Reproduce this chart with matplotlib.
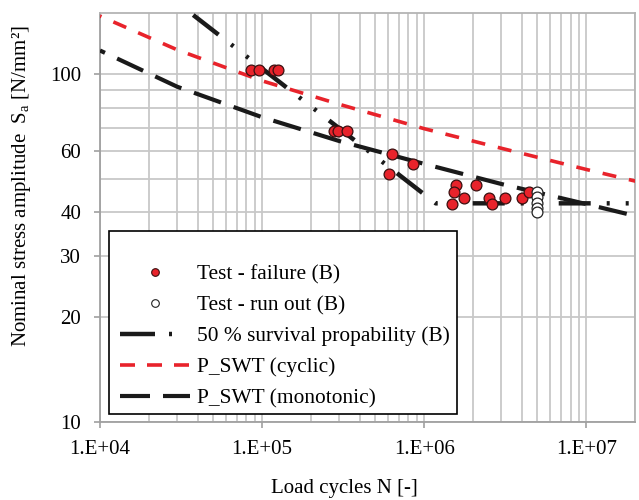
import matplotlib
matplotlib.use('Agg')
import matplotlib.pyplot as plt
from matplotlib.lines import Line2D
from matplotlib.patches import Rectangle
from matplotlib.ticker import FixedLocator, FixedFormatter, NullFormatter

plt.rcParams['font.family'] = ['Liberation Serif', 'DejaVu Serif']
plt.rcParams['lines.scale_dashes'] = False

# ---------------- data ----------------
fail_N = [8.6e4, 9.6e4, 1.19e5, 1.26e5,
          2.76e5, 2.96e5, 3.32e5,
          6.3e5, 8.5e5, 6.07e5,
          1.57e6, 1.52e6, 1.77e6, 1.48e6, 2.08e6, 2.52e6, 2.61e6, 3.15e6, 4.0e6, 4.45e6]
fail_S = [103, 103, 103, 103,
          68.5, 68.5, 68.5,
          58.8, 55.0, 51.5,
          47.9, 45.9, 44.1, 42.4, 47.9, 44.1, 42.4, 44.1, 44.1, 45.9]

runout_N = [5.0e6, 5.0e6, 5.0e6, 5.0e6, 5.0e6]
runout_S = [45.9, 44.2, 42.6, 41.1, 40.0]

surv_N = [3.76e4, 1.18e6, 2.0e7]
surv_S = [148, 42.5, 42.5]

cyc_N = [1e4, 3e4, 1e5, 3e5, 1e6, 3e6, 1e7, 2.1e7]
cyc_S = [147, 117.5, 95.7, 81.9, 69.7, 61.2, 53.2, 49.0]

mono_N = [1e4, 3e4, 1e5, 3e5, 1e6, 3e6, 1e7, 2.1e7]
mono_S = [117, 92.0, 75.2, 64.2, 55.2, 48.3, 42.3, 38.9]

xticks = [1e4, 1e5, 1e6, 1e7]
xticklabels = ['1.E+04', '1.E+05', '1.E+06', '1.E+07']
yticks = [10, 20, 30, 40, 60, 100]
yticklabels = ['10', '20', '30', '40', '60', '100']
yminor = [50, 70, 80, 90]

legend_labels = ['Test - failure (B)', 'Test - run out (B)',
                 '50 % survival propability (B)', 'P_SWT (cyclic)', 'P_SWT (monotonic)']

# ---------------- styles ----------------
RED = '#E8232B'
px = 0.72  # points per pixel at 100 dpi
surv_dash = (0, (32*px, 16*px, 3*px, 16*px, 3*px, 16*px))
cyc_dash = (12.4*px, (14*px, 13*px))
mono_dash = (23.2*px, (28.7*px, 13.4*px))
FS = 15

fig = plt.figure(figsize=(6.39, 5.0), dpi=100)
ax = fig.add_axes([100/639, 1-421.7/500, 535/639, 408.7/500])
ax.set_xscale('log')
ax.set_yscale('log')
ax.set_xlim(1e4, 2e7)
ax.set_ylim(10, 150)

grid_c = '#c8c8c8'
ax.xaxis.set_major_locator(FixedLocator(xticks))
ax.xaxis.set_major_formatter(FixedFormatter(xticklabels))
ax.xaxis.set_minor_formatter(NullFormatter())
ax.yaxis.set_major_locator(FixedLocator(yticks))
ax.yaxis.set_major_formatter(FixedFormatter(yticklabels))
ax.yaxis.set_minor_locator(FixedLocator(yminor))
ax.yaxis.set_minor_formatter(NullFormatter())
ax.grid(True, which='both', color=grid_c, lw=1.3)
ax.set_axisbelow(True)
ax.tick_params(axis='both', which='major', labelsize=FS, length=4.5, width=1.2,
               color='#a0a0a0', direction='out')
ax.tick_params(axis='y', which='major', pad=9)
ax.tick_params(axis='x', which='major', pad=9)
ax.tick_params(which='minor', length=0)
for s in ax.spines.values():
    s.set_color('#b4b4b4')
    s.set_linewidth(1.3)
ax.spines['left'].set_color('#a0a0a0')
ax.spines['bottom'].set_color('#a0a0a0')

ax.plot(surv_N, surv_S, color='#1a1a1a', lw=3.2, linestyle=surv_dash,
        dash_capstyle='butt', zorder=3)
ax.plot(cyc_N, cyc_S, color=RED, lw=2.6, linestyle=cyc_dash,
        dash_capstyle='butt', zorder=3)
ax.plot(mono_N, mono_S, color='#1a1a1a', lw=3.0, linestyle=mono_dash,
        dash_capstyle='butt', zorder=3)
ax.plot(fail_N, fail_S, linestyle='none', marker='o', ms=7.8, mfc=RED, mec='#3a1010',
        mew=0.9, zorder=5)
ax.plot(runout_N, runout_S, linestyle='none', marker='o', ms=7.8, mfc='white', mec='#222222',
        mew=0.9, zorder=5)

# legend frame (Excel style, with extra room at the top)
ax.add_patch(Rectangle(((109-100)/535, (421.7-414)/408.7), (457-109)/535, (414-231)/408.7,
                       transform=ax.transAxes, facecolor='white', edgecolor='black',
                       lw=1.2, zorder=6))

handles = [
    Line2D([], [], linestyle='none', marker='o', ms=5.5, mfc=RED, mec='#3a1010', mew=0.8),
    Line2D([], [], linestyle='none', marker='o', ms=5.5, mfc='white', mec='#222222', mew=0.8),
    Line2D([], [], color='#1a1a1a', lw=3.2, linestyle=(0, (35*px, 14*px, 3*px, 30*px)),
           dash_capstyle='butt'),
    Line2D([], [], color=RED, lw=2.6, linestyle=(0, (15*px, 12*px)), dash_capstyle='butt'),
    Line2D([], [], color='#1a1a1a', lw=3.0, linestyle=(0, (30*px, 13*px)), dash_capstyle='butt'),
]
LFS = 15.4
leg = ax.legend(handles, legend_labels, loc='lower left',
                bbox_to_anchor=((114.5-100)/535, (421.7-414)/408.7), borderaxespad=0,
                fontsize=LFS, frameon=False, handlelength=70/(LFS/0.72),
                handletextpad=7/(LFS/0.72), labelspacing=0.52, borderpad=0.26)
leg.set_zorder(7)

fig.text(22/639, 1-186/500, 'Nominal stress amplitude  S$_\\mathregular{a}$ [N/mm²]',
         rotation=90, ha='center', va='center', fontsize=FS)
fig.text(344.6/639, 1-489/500, 'Load cycles N [-]', ha='center', va='center', fontsize=FS)

fig.savefig('out.png', dpi=100)
